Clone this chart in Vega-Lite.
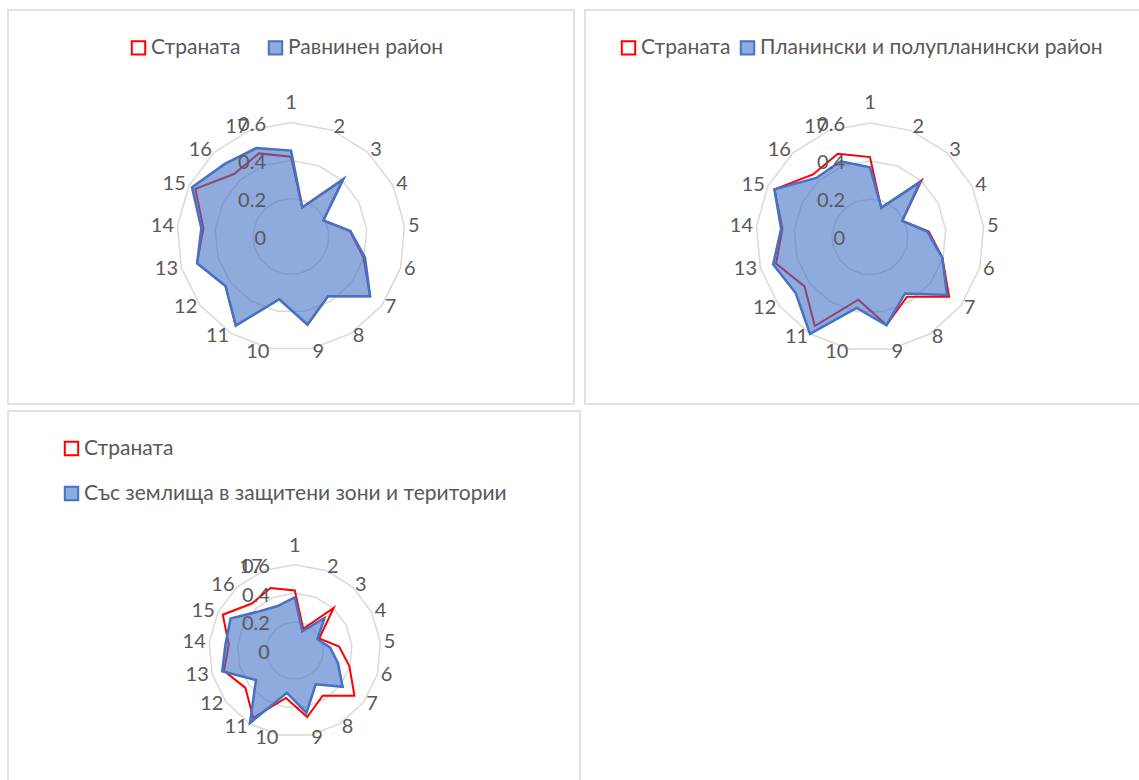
{
"$schema":"https://vega.github.io/schema/vega-lite/v6.json",
"background":"white",
"padding":{"left":7,"top":9,"right":0,"bottom":0},
"config":{"view":{"stroke":"#D9D9D9","strokeWidth":1.5},"font":"Lato","text":{"font":"Lato","fontSize":20,"color":"#595959"}},
"datasets":{
"vals":[
{"series":"Страната","cat":1,"value":0.42},{"series":"Страната","cat":2,"value":0.163},{"series":"Страната","cat":3,"value":0.403},{"series":"Страната","cat":4,"value":0.19},{"series":"Страната","cat":5,"value":0.311},{"series":"Страната","cat":6,"value":0.396},{"series":"Страната","cat":7,"value":0.522},{"series":"Страната","cat":8,"value":0.37},{"series":"Страната","cat":9,"value":0.472},{"series":"Страната","cat":10,"value":0.336},{"series":"Страната","cat":11,"value":0.552},{"series":"Страната","cat":12,"value":0.432},{"series":"Страната","cat":13,"value":0.514},{"series":"Страната","cat":14,"value":0.463},{"series":"Страната","cat":15,"value":0.562},{"series":"Страната","cat":16,"value":0.445},{"series":"Страната","cat":17,"value":0.469},
{"series":"Равнинен район","cat":1,"value":0.452},{"series":"Равнинен район","cat":2,"value":0.165},{"series":"Равнинен район","cat":3,"value":0.41},{"series":"Равнинен район","cat":4,"value":0.191},{"series":"Равнинен район","cat":5,"value":0.314},{"series":"Равнинен район","cat":6,"value":0.405},{"series":"Равнинен район","cat":7,"value":0.522},{"series":"Равнинен район","cat":8,"value":0.37},{"series":"Равнинен район","cat":9,"value":0.472},{"series":"Равнинен район","cat":10,"value":0.336},{"series":"Равнинен район","cat":11,"value":0.552},{"series":"Равнинен район","cat":12,"value":0.432},{"series":"Равнинен район","cat":13,"value":0.514},{"series":"Равнинен район","cat":14,"value":0.474},{"series":"Равнинен район","cat":15,"value":0.582},{"series":"Равнинен район","cat":16,"value":0.517},{"series":"Равнинен район","cat":17,"value":0.5},
{"series":"Планински и полупланински район","cat":1,"value":0.366},{"series":"Планински и полупланински район","cat":2,"value":0.165},{"series":"Планински и полупланински район","cat":3,"value":0.39},{"series":"Планински и полупланински район","cat":4,"value":0.19},{"series":"Планински и полупланински район","cat":5,"value":0.303},{"series":"Планински и полупланински район","cat":6,"value":0.395},{"series":"Планински и полупланински район","cat":7,"value":0.508},{"series":"Планински и полупланински район","cat":8,"value":0.35},{"series":"Планински и полупланински район","cat":9,"value":0.473},{"series":"Планински и полупланински район","cat":10,"value":0.38},{"series":"Планински и полупланински район","cat":11,"value":0.6},{"series":"Планински и полупланински район","cat":12,"value":0.49},{"series":"Планински и полупланински район","cat":13,"value":0.53},{"series":"Планински и полупланински район","cat":14,"value":0.47},{"series":"Планински и полупланински район","cat":15,"value":0.562},{"series":"Планински и полупланински район","cat":16,"value":0.42},{"series":"Планински и полупланински район","cat":17,"value":0.427},
{"series":"Със землища в защитени зони и територии","cat":1,"value":0.372},{"series":"Със землища в защитени зони и територии","cat":2,"value":0.145},{"series":"Със землища в защитени зони и територии","cat":3,"value":0.308},{"series":"Със землища в защитени зони и територии","cat":4,"value":0.177},{"series":"Със землища в защитени зони и територии","cat":5,"value":0.247},{"series":"Със землища в защитени зони и територии","cat":6,"value":0.313},{"series":"Със землища в защитени зони и територии","cat":7,"value":0.419},{"series":"Със землища в защитени зони и територии","cat":8,"value":0.277},{"series":"Със землища в защитени зони и територии","cat":9,"value":0.443},{"series":"Със землища в защитени зони и територии","cat":10,"value":0.3},{"series":"Със землища в защитени зони и територии","cat":11,"value":0.594},{"series":"Със землища в защитени зони и територии","cat":12,"value":0.34},{"series":"Със землища в защитени зони и територии","cat":13,"value":0.527},{"series":"Със землища в защитени зони и територии","cat":14,"value":0.486},{"series":"Със землища в защитени зони и територии","cat":15,"value":0.501},{"series":"Със землища в защитени зони и територии","cat":16,"value":0.371},{"series":"Със землища в защитени зони и територии","cat":17,"value":0.334}
],
"grid":[
{"ring":0.2,"cat":1},{"ring":0.2,"cat":2},{"ring":0.2,"cat":3},{"ring":0.2,"cat":4},{"ring":0.2,"cat":5},{"ring":0.2,"cat":6},{"ring":0.2,"cat":7},{"ring":0.2,"cat":8},{"ring":0.2,"cat":9},{"ring":0.2,"cat":10},{"ring":0.2,"cat":11},{"ring":0.2,"cat":12},{"ring":0.2,"cat":13},{"ring":0.2,"cat":14},{"ring":0.2,"cat":15},{"ring":0.2,"cat":16},{"ring":0.2,"cat":17},
{"ring":0.4,"cat":1},{"ring":0.4,"cat":2},{"ring":0.4,"cat":3},{"ring":0.4,"cat":4},{"ring":0.4,"cat":5},{"ring":0.4,"cat":6},{"ring":0.4,"cat":7},{"ring":0.4,"cat":8},{"ring":0.4,"cat":9},{"ring":0.4,"cat":10},{"ring":0.4,"cat":11},{"ring":0.4,"cat":12},{"ring":0.4,"cat":13},{"ring":0.4,"cat":14},{"ring":0.4,"cat":15},{"ring":0.4,"cat":16},{"ring":0.4,"cat":17},
{"ring":0.6,"cat":1},{"ring":0.6,"cat":2},{"ring":0.6,"cat":3},{"ring":0.6,"cat":4},{"ring":0.6,"cat":5},{"ring":0.6,"cat":6},{"ring":0.6,"cat":7},{"ring":0.6,"cat":8},{"ring":0.6,"cat":9},{"ring":0.6,"cat":10},{"ring":0.6,"cat":11},{"ring":0.6,"cat":12},{"ring":0.6,"cat":13},{"ring":0.6,"cat":14},{"ring":0.6,"cat":15},{"ring":0.6,"cat":16},{"ring":0.6,"cat":17}
],
"ticks":[{"v":0,"t":"0"},{"v":0.2,"t":"0.2"},{"v":0.4,"t":"0.4"},{"v":0.6,"t":"0.6"}]
},
"spacing":5,
"resolve":{"scale":{"stroke":"independent"},"legend":{"stroke":"independent"}},
"vconcat":[
{"hconcat":[
{"width":566,"height":394,
"encoding":{"x":{"field":"x","type":"quantitative","scale":{"domain":[-1.4895,1.4895],"nice":false,"zero":false},"axis":null},"y":{"field":"y","type":"quantitative","scale":{"domain":[-0.8816,1.1921],"nice":false,"zero":false},"axis":null}},
"layer":[
{"data":{"name":"grid"},"transform":[{"calculate":"(datum.cat-1)*2*PI/17","as":"a"},{"calculate":"datum.ring*sin(datum.a)","as":"x"},{"calculate":"datum.ring*cos(datum.a)","as":"y"}],
"mark":{"type":"line","interpolate":"linear-closed","stroke":"#D9D9D9","strokeWidth":1.5},
"encoding":{"detail":{"field":"ring","type":"nominal"},"order":{"field":"cat","type":"quantitative"}}},
{"data":{"name":"vals"},"transform":[{"filter":"datum.series==='Страната'"},{"calculate":"(datum.cat-1)*2*PI/17","as":"a"},{"calculate":"datum.value*sin(datum.a)","as":"x"},{"calculate":"datum.value*cos(datum.a)","as":"y"}],
"mark":{"type":"line","interpolate":"linear-closed","strokeWidth":2},
"encoding":{"order":{"field":"cat","type":"quantitative"},"stroke":{"field":"series","type":"nominal","scale":{"domain":["Страната","Равнинен район"],"range":["#FF0000","#4472C4"]},"legend":{"orient":"none","legendX":120,"legendY":27,"direction":"horizontal","title":null,"symbolType":"square","symbolSize":180,"symbolStrokeWidth":2,"labelFont":"Lato","labelFontSize":21,"labelColor":"#595959","labelOffset":2,"columnPadding":23,"padding":0,"labelLimit":1000,"encode":{"symbols":{"update":{"fill":[{"test":"datum.value === 'Страната'","value":"transparent"},{"value":"#8FAADC"}]}}}}}}},
{"data":{"name":"vals"},"transform":[{"filter":"datum.series==='Равнинен район'"},{"calculate":"(datum.cat-1)*2*PI/17","as":"a"},{"calculate":"datum.value*sin(datum.a)","as":"x"},{"calculate":"datum.value*cos(datum.a)","as":"y"}],
"mark":{"type":"line","interpolate":"linear-closed","strokeWidth":2.5,"fill":"#4472C4","fillOpacity":0.6},
"encoding":{"order":{"field":"cat","type":"quantitative"},"stroke":{"field":"series","type":"nominal","scale":{"domain":["Страната","Равнинен район"],"range":["#FF0000","#4472C4"]}}}},
{"data":{"name":"vals"},"transform":[{"filter":"datum.series==='Страната' && datum.cat>=2 && datum.cat<=9"},{"calculate":"(datum.cat-1)*2*PI/17","as":"a"},{"calculate":"0.6184*sin(datum.a)","as":"x"},{"calculate":"0.6184*cos(datum.a)","as":"y"}],
"mark":{"type":"text","align":"left","baseline":"middle"},"encoding":{"text":{"field":"cat","type":"nominal"}}},
{"data":{"name":"vals"},"transform":[{"filter":"datum.series==='Страната' && datum.cat>=10"},{"calculate":"(datum.cat-1)*2*PI/17","as":"a"},{"calculate":"0.6184*sin(datum.a)","as":"x"},{"calculate":"0.6184*cos(datum.a)","as":"y"}],
"mark":{"type":"text","align":"right","baseline":"middle"},"encoding":{"text":{"field":"cat","type":"nominal"}}},
{"data":{"name":"vals"},"transform":[{"filter":"datum.series==='Страната' && datum.cat==1"},{"calculate":"0","as":"x"},{"calculate":"0.705","as":"y"}],
"mark":{"type":"text","align":"center","baseline":"middle"},"encoding":{"text":{"field":"cat","type":"nominal"}}},
{"data":{"name":"ticks"},"transform":[{"calculate":"0","as":"x"},{"calculate":"datum.v","as":"y"}],
"mark":{"type":"text","align":"right","baseline":"middle","dx":-25,"dy":2.5},"encoding":{"text":{"field":"t","type":"nominal"}}}
]},
{"width":558,"height":394,
"encoding":{"x":{"field":"x","type":"quantitative","scale":{"domain":[-1.5,1.4368],"nice":false,"zero":false},"axis":null},"y":{"field":"y","type":"quantitative","scale":{"domain":[-0.8795,1.1942],"nice":false,"zero":false},"axis":null}},
"layer":[
{"data":{"name":"grid"},"transform":[{"calculate":"(datum.cat-1)*2*PI/17","as":"a"},{"calculate":"datum.ring*sin(datum.a)","as":"x"},{"calculate":"datum.ring*cos(datum.a)","as":"y"}],
"mark":{"type":"line","interpolate":"linear-closed","stroke":"#D9D9D9","strokeWidth":1.5},
"encoding":{"detail":{"field":"ring","type":"nominal"},"order":{"field":"cat","type":"quantitative"}}},
{"data":{"name":"vals"},"transform":[{"filter":"datum.series==='Страната'"},{"calculate":"(datum.cat-1)*2*PI/17","as":"a"},{"calculate":"datum.value*sin(datum.a)","as":"x"},{"calculate":"datum.value*cos(datum.a)","as":"y"}],
"mark":{"type":"line","interpolate":"linear-closed","strokeWidth":2},
"encoding":{"order":{"field":"cat","type":"quantitative"},"stroke":{"field":"series","type":"nominal","scale":{"domain":["Страната","Планински и полупланински район"],"range":["#FF0000","#4472C4"]},"legend":{"orient":"none","legendX":33,"legendY":27,"direction":"horizontal","title":null,"symbolType":"square","symbolSize":180,"symbolStrokeWidth":2,"labelFont":"Lato","labelFontSize":21,"labelColor":"#595959","labelOffset":2,"columnPadding":5,"padding":0,"labelLimit":1000,"encode":{"symbols":{"update":{"fill":[{"test":"datum.value === 'Страната'","value":"transparent"},{"value":"#8FAADC"}]}}}}}}},
{"data":{"name":"vals"},"transform":[{"filter":"datum.series==='Планински и полупланински район'"},{"calculate":"(datum.cat-1)*2*PI/17","as":"a"},{"calculate":"datum.value*sin(datum.a)","as":"x"},{"calculate":"datum.value*cos(datum.a)","as":"y"}],
"mark":{"type":"line","interpolate":"linear-closed","strokeWidth":2.5,"fill":"#4472C4","fillOpacity":0.6},
"encoding":{"order":{"field":"cat","type":"quantitative"},"stroke":{"field":"series","type":"nominal","scale":{"domain":["Страната","Планински и полупланински район"],"range":["#FF0000","#4472C4"]}}}},
{"data":{"name":"vals"},"transform":[{"filter":"datum.series==='Страната' && datum.cat>=2 && datum.cat<=9"},{"calculate":"(datum.cat-1)*2*PI/17","as":"a"},{"calculate":"0.6184*sin(datum.a)","as":"x"},{"calculate":"0.6184*cos(datum.a)","as":"y"}],
"mark":{"type":"text","align":"left","baseline":"middle"},"encoding":{"text":{"field":"cat","type":"nominal"}}},
{"data":{"name":"vals"},"transform":[{"filter":"datum.series==='Страната' && datum.cat>=10"},{"calculate":"(datum.cat-1)*2*PI/17","as":"a"},{"calculate":"0.6184*sin(datum.a)","as":"x"},{"calculate":"0.6184*cos(datum.a)","as":"y"}],
"mark":{"type":"text","align":"right","baseline":"middle"},"encoding":{"text":{"field":"cat","type":"nominal"}}},
{"data":{"name":"vals"},"transform":[{"filter":"datum.series==='Страната' && datum.cat==1"},{"calculate":"0","as":"x"},{"calculate":"0.705","as":"y"}],
"mark":{"type":"text","align":"center","baseline":"middle"},"encoding":{"text":{"field":"cat","type":"nominal"}}},
{"data":{"name":"ticks"},"transform":[{"calculate":"0","as":"x"},{"calculate":"datum.v","as":"y"}],
"mark":{"type":"text","align":"right","baseline":"middle","dx":-25,"dy":2.5},"encoding":{"text":{"field":"t","type":"nominal"}}}
]}
],"spacing":9,"resolve":{"scale":{"stroke":"independent"},"legend":{"stroke":"independent"}}},
{"width":572,"height":380,
"encoding":{"x":{"field":"x","type":"quantitative","scale":{"domain":[-2.0028,1.9916],"nice":false,"zero":false},"axis":null},"y":{"field":"y","type":"quantitative","scale":{"domain":[-0.9804,1.6732],"nice":false,"zero":false},"axis":null}},
"layer":[
{"data":{"name":"grid"},"transform":[{"calculate":"(datum.cat-1)*2*PI/17","as":"a"},{"calculate":"datum.ring*sin(datum.a)","as":"x"},{"calculate":"datum.ring*cos(datum.a)","as":"y"}],
"mark":{"type":"line","interpolate":"linear-closed","stroke":"#D9D9D9","strokeWidth":1.5},
"encoding":{"detail":{"field":"ring","type":"nominal"},"order":{"field":"cat","type":"quantitative"}}},
{"data":{"name":"vals"},"transform":[{"filter":"datum.series==='Страната'"},{"calculate":"(datum.cat-1)*2*PI/17","as":"a"},{"calculate":"datum.value*sin(datum.a)","as":"x"},{"calculate":"datum.value*cos(datum.a)","as":"y"}],
"mark":{"type":"line","interpolate":"linear-closed","strokeWidth":2},
"encoding":{"order":{"field":"cat","type":"quantitative"},"stroke":{"field":"series","type":"nominal","scale":{"domain":["Страната","Със землища в защитени зони и територии"],"range":["#FF0000","#4472C4"]},"legend":{"orient":"none","legendX":53,"legendY":27,"direction":"vertical","title":null,"symbolType":"square","symbolSize":180,"symbolStrokeWidth":2,"labelFont":"Lato","labelFontSize":21,"labelColor":"#595959","labelOffset":2,"rowPadding":22,"padding":0,"labelLimit":1000,"encode":{"symbols":{"update":{"fill":[{"test":"datum.value === 'Страната'","value":"transparent"},{"value":"#8FAADC"}]}}}}}}},
{"data":{"name":"vals"},"transform":[{"filter":"datum.series==='Със землища в защитени зони и територии'"},{"calculate":"(datum.cat-1)*2*PI/17","as":"a"},{"calculate":"datum.value*sin(datum.a)","as":"x"},{"calculate":"datum.value*cos(datum.a)","as":"y"}],
"mark":{"type":"line","interpolate":"linear-closed","strokeWidth":2.5,"fill":"#4472C4","fillOpacity":0.6},
"encoding":{"order":{"field":"cat","type":"quantitative"},"stroke":{"field":"series","type":"nominal","scale":{"domain":["Страната","Със землища в защитени зони и територии"],"range":["#FF0000","#4472C4"]}}}},
{"data":{"name":"vals"},"transform":[{"filter":"datum.series==='Страната' && datum.cat>=2 && datum.cat<=9"},{"calculate":"(datum.cat-1)*2*PI/17","as":"a"},{"calculate":"0.6243*sin(datum.a)","as":"x"},{"calculate":"0.6243*cos(datum.a)","as":"y"}],
"mark":{"type":"text","align":"left","baseline":"middle"},"encoding":{"text":{"field":"cat","type":"nominal"}}},
{"data":{"name":"vals"},"transform":[{"filter":"datum.series==='Страната' && datum.cat>=10"},{"calculate":"(datum.cat-1)*2*PI/17","as":"a"},{"calculate":"0.6243*sin(datum.a)","as":"x"},{"calculate":"0.6243*cos(datum.a)","as":"y"}],
"mark":{"type":"text","align":"right","baseline":"middle"},"encoding":{"text":{"field":"cat","type":"nominal"}}},
{"data":{"name":"vals"},"transform":[{"filter":"datum.series==='Страната' && datum.cat==1"},{"calculate":"0","as":"x"},{"calculate":"0.728","as":"y"}],
"mark":{"type":"text","align":"center","baseline":"middle"},"encoding":{"text":{"field":"cat","type":"nominal"}}},
{"data":{"name":"ticks"},"transform":[{"calculate":"0","as":"x"},{"calculate":"datum.v","as":"y"}],
"mark":{"type":"text","align":"right","baseline":"middle","dx":-25,"dy":2.5},"encoding":{"text":{"field":"t","type":"nominal"}}}
]}
]
}
